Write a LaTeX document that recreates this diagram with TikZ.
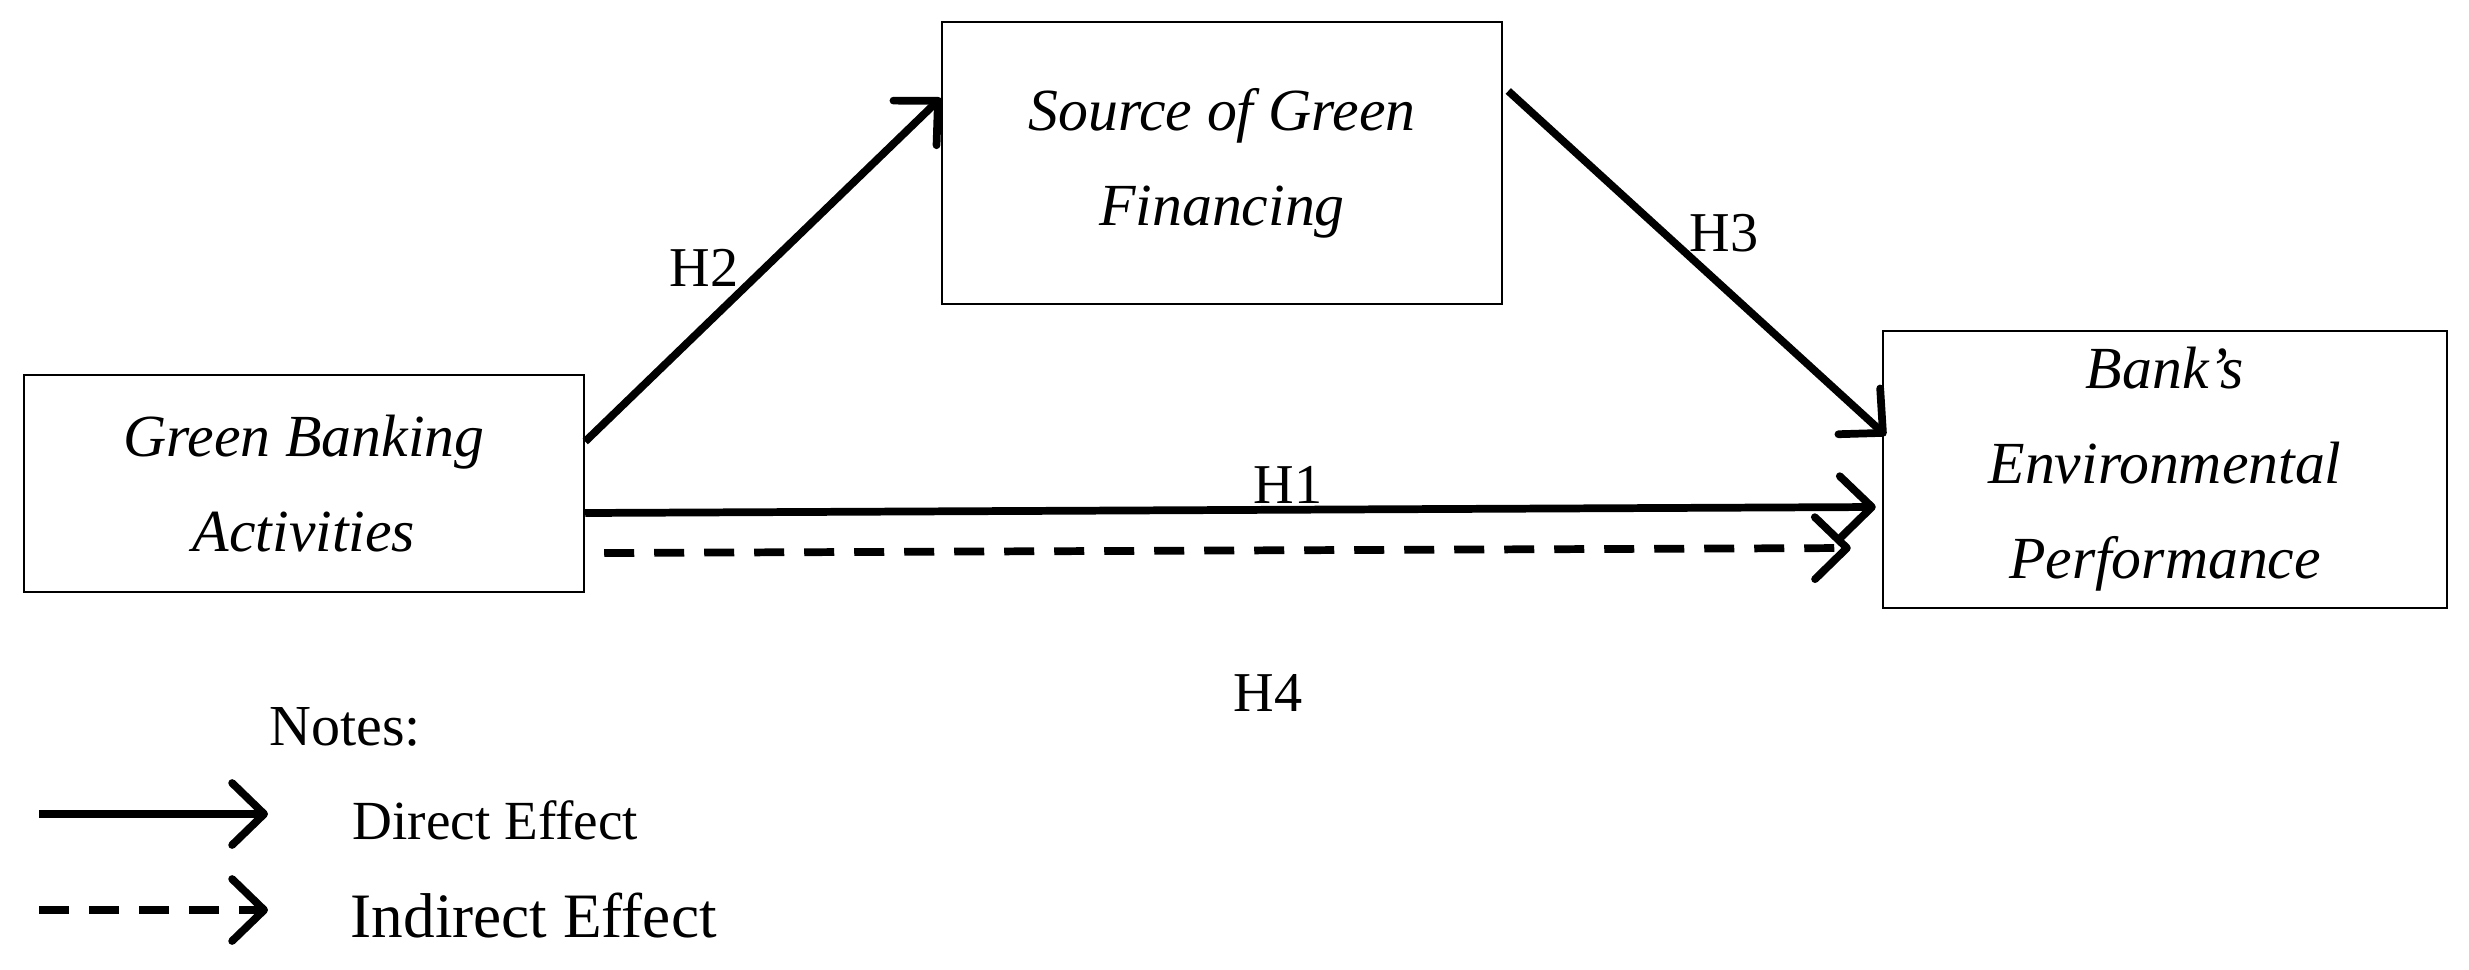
\documentclass[tikz,border=0pt]{standalone}
\usepackage{fontspec}
\setmainfont{Liberation Serif}
\usetikzlibrary{arrows.meta,calc}
\tikzset{
  varbox/.style={draw, line width=0.7pt, minimum width=5.6cm, inner sep=2pt, align=center,
    font=\itshape\fontsize{17}{27}\selectfont},
  effect/.style={line width=2.2pt, -{Straight Barb[round,length=0.32cm,width=0.62cm]}},
  indirect/.style={effect, dash pattern=on 0.3cm off 0.2cm},
  hlabel/.style={font=\fontsize{16}{19}\selectfont},
}

\begin{document}
\begin{tikzpicture}
      \useasboundingbox (0,0) rectangle (24.69,9.69);

      % variables
      \node[varbox, minimum height=2.17cm] (gba) at (3.04,4.855) {Green Banking\\Activities};
      \node[varbox, minimum height=2.82cm] (sgf) at (12.22,8.06) {Source of Green\\Financing};
      \node[varbox, minimum width=5.64cm, minimum height=2.77cm] (bep) at (21.65,4.995) {Bank’s\\Environmental\\Performance};

      % paths
      \draw[effect] ($(gba.east)+(0,0.42)$) -- ($(sgf.west)+(0,0.65)$);
      \draw[effect] ($(sgf.east)+(0.05,0.72)$) -- ($(bep.west)+(0.04,0.34)$);
      \draw[effect] ($(gba.east)+(0,-0.295)$) -- ($(bep.west)+(-0.06,-0.375)$);
      \draw[indirect] ($(gba.east)+(0.19,-0.695)$) -- ($(bep.west)+(-0.31,-0.785)$);

      % hypotheses
      \node[hlabel] (h2) at (7.04,7.01) {H2};
      \node[hlabel] (h3) at (17.24,7.36) {H3};
      \node[hlabel] (h1) at (12.88,4.84) {H1};
      \node[hlabel] (h4) at (12.68,2.76) {H4};

      % legend
      \node[font=\fontsize{16.5}{19}\selectfont] (notes) at (3.45,2.42) {Notes:};
      \coordinate (d1) at (0.39,1.55);
      \coordinate (d2) at (2.68,1.55);
      \coordinate (i1) at (0.39,0.59);
      \coordinate (i2) at (2.68,0.59);
      \draw[effect] (d1) -- (d2);
      \draw[indirect] (i1) -- (i2);
      \node[right, inner sep=0pt, font=\fontsize{15.7}{18}\selectfont] (direct) at (3.52,1.49) {Direct Effect};
      \node[right, inner sep=0pt, font=\fontsize{18}{21}\selectfont] (indir) at (3.5,0.53) {Indirect Effect};
    \end{tikzpicture}
\end{document}
